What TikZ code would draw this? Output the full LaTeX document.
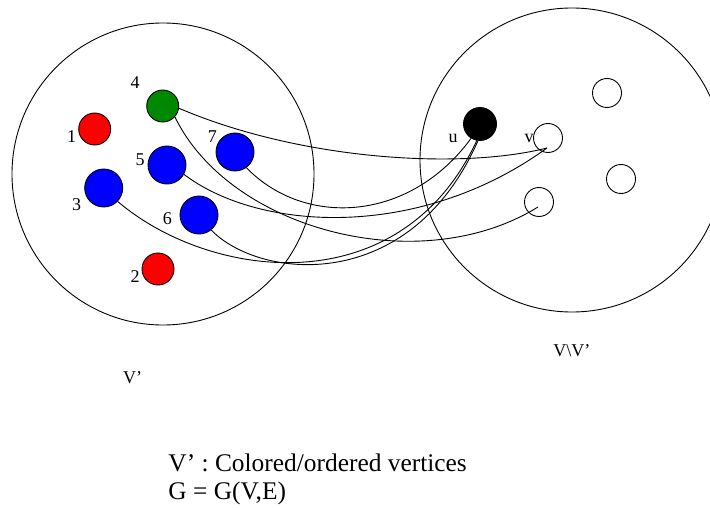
\documentclass[tikz,border=0pt]{standalone}
\usepackage{fontspec}
\setmainfont{Liberation Serif}
\usetikzlibrary{calc}
\definecolor{vred}{RGB}{255,0,0}
\definecolor{vgreen}{RGB}{0,136,0}
\definecolor{vblue}{RGB}{0,0,255}

\begin{document}
\begin{tikzpicture}[x=1pt, y=-1pt, line width=0.9pt,
  vert/.style={circle, draw=black, inner sep=0pt, line width=0.9pt},
  smallv/.style={vert, minimum size=32pt},
  bigv/.style={vert, minimum size=38pt},
  hollow/.style={vert, minimum size=29pt},
  setc/.style={circle, draw=black, inner sep=0pt, line width=0.9pt},
  lab/.style={inner sep=0pt, font=\fontsize{18}{20}\selectfont},
  note/.style={inner sep=0pt, anchor=base west, font=\fontsize{25.4}{28}\selectfont}]

\useasboundingbox (0,0) rectangle (710,508);

% the two vertex sets
\node[setc, minimum size=302pt] (Vp) at (163,174) {};
\node[setc, minimum size=304pt] (Vr) at (572,160) {};

% coloured / ordered vertices
\node[smallv, fill=vred]   (n1) at (94.7,129) {};
\node[smallv, fill=vred]   (n2) at (158,269) {};
\node[bigv,   fill=vblue]  (n3) at (103.7,188) {};
\node[smallv, fill=vgreen] (n4) at (162.7,106) {};
\node[bigv,   fill=vblue]  (n5) at (167,165) {};
\node[bigv,   fill=vblue]  (n6) at (199,215) {};
\node[bigv,   fill=vblue]  (n7) at (235,152) {};

\node[lab] (l1) at (71.7,136.7) {1};
\node[lab] (l2) at (135,276.7) {2};
\node[lab] (l3) at (76.7,205) {3};
\node[lab] (l4) at (135,82.3) {4};
\node[lab] (l5) at (140,160) {5};
\node[lab] (l6) at (167.3,219) {6};
\node[lab] (l7) at (212.3,136.7) {7};

% remaining vertices
\node[vert, minimum size=33pt, fill=black] (u) at (480,124) {};
\node[hollow] (v)  at (548,138) {};
\node[hollow] (w)  at (539,202) {};
\node[hollow] (h1) at (607,93) {};
\node[hollow] (h2) at (621,179) {};

\node[lab] (lu) at (453,138) {u};
\node[lab] (lv) at (529,138) {v};

\coordinate (vend) at ($(v.center)+(-1,10)$);
\coordinate (wend) at ($(w.center)+(-1,5)$);

% edges leaving the coloured set
\draw (n4.-8)  .. controls (300,160) and (460,170) .. (vend);
\draw (n4.-42) .. controls (230,230) and (420,280) .. (wend);
\draw (n5.-29) .. controls (260,232) and (420,240) .. (vend);
\draw (n7.-54) .. controls (305,228) and (410,222) .. (u.-122);
\draw (n3.-44) .. controls (210,280) and (400,305) .. (u.-101);
\draw (n6.-51) .. controls (260,280) and (410,295) .. (u.-97);

% set names and legend
\node[lab, anchor=base west] (tVp) at (122.7,383) {V’};
\node[lab, anchor=base west] (tVr) at (553,356) {V\textbackslash V’};
\node[note] (t1) at (168,471) {V’ : Colored/ordered vertices};
\node[note] (t2) at (168,499) {G = G(V,E)};
\end{tikzpicture}
\end{document}
